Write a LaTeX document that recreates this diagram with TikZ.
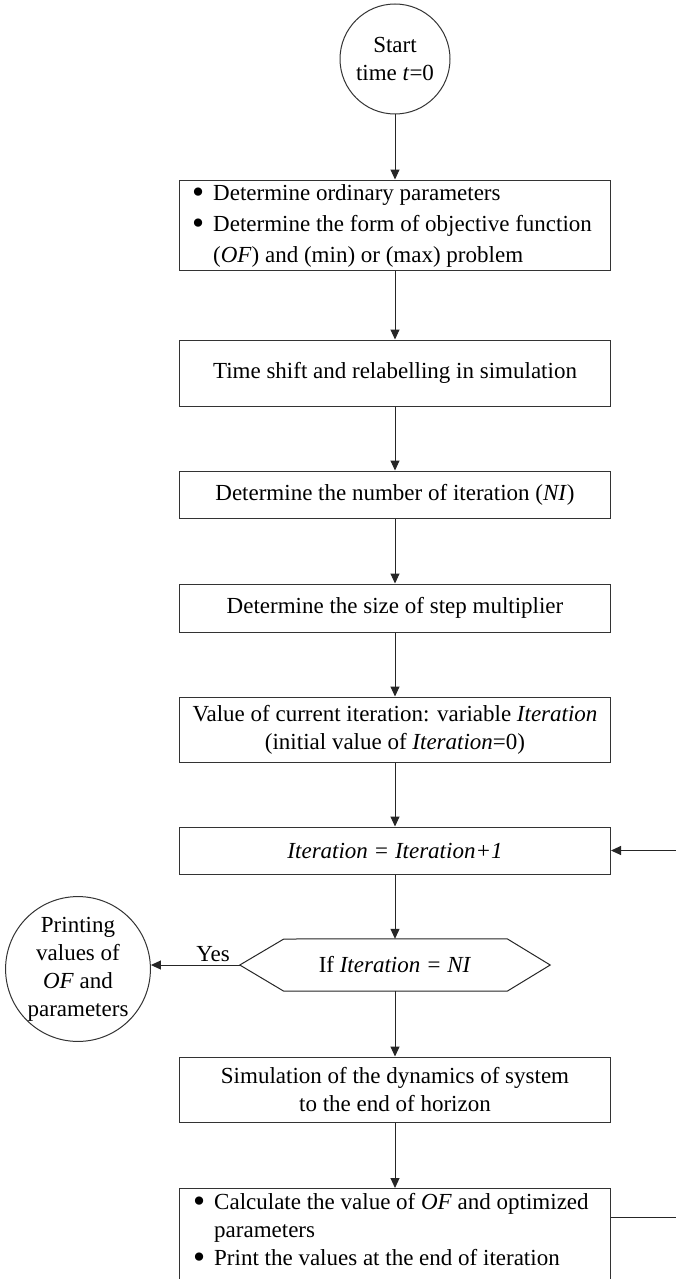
\documentclass[tikz,border=0pt]{standalone}
\usepackage{fontspec}
\setmainfont{Liberation Serif}
\usetikzlibrary{arrows.meta}

% large round list bullet with a fixed gap to the text
\newcommand\listdot{\makebox[21pt][l]{\smash{\raisebox{-0.13em}{\scalebox{1.5}{\textbullet}}}}}
\newcommand\listgap{\hspace*{21pt}}

\tikzset{
  txt/.style={font=\fontsize{23}{28}\selectfont},
  stepbox/.style={txt, draw=black!80, line width=1pt, rectangle,
    minimum width=431pt, align=center, inner sep=0pt},
  listtext/.style={txt, align=left, inner sep=0pt},
  roundnode/.style={txt, draw=black!80, line width=1pt, circle, align=center, inner sep=0pt},
  flow/.style={draw=black!85, line width=1pt, -{Triangle[length=10pt,width=9pt]}},
  plain/.style={draw=black!85, line width=1pt}
}

\begin{document}
\begin{tikzpicture}[x=1pt,y=-1pt]
\useasboundingbox (0,0) rectangle (676,1279);
\fill[white] (0,0) rectangle (676,1279);
\clip (0,0) rectangle (676,1279);

% main column
\node[roundnode, minimum size=110pt] (start) at (395,59) {Start\\time \textit{t}=0};

\node[stepbox, minimum height=90pt] (params) at (395,225) {};
\node[listtext, font=\fontsize{23}{31}\selectfont, anchor=west] (paramstext)
  at ([xshift=13pt,yshift=-1pt]params.west)
  {\listdot Determine ordinary parameters\\
   \listdot Determine the form of objective function\\
   \listgap(\textit{OF}) and (min) or (max) problem};

\node[stepbox, minimum height=66pt] (shift) at (395,373)
  {Time shift and relabelling in simulation};

\node[stepbox, minimum height=47pt] (nint) at (395,494.5)
  {Determine the number of iteration (\textit{NI})};

\node[stepbox, minimum height=48pt] (stepsize) at (395,608)
  {Determine the size of step multiplier};

\node[stepbox, minimum height=65pt] (curr) at (395,729.5)
  {Value of current iteration: variable \textit{Iteration}\\
   (initial value of \textit{Iteration}=0)};

\node[stepbox, minimum height=47pt] (incr) at (395,850.5)
  {\textit{Iteration = Iteration+1}};

% decision: hexagon drawn around a plain node
\node[txt, minimum width=310pt, minimum height=52pt, inner sep=0pt] (test) at (395,965)
  {If \textit{Iteration = NI}};
\draw[plain] (test.west) -- ++(44,-26) -- ([xshift=-43pt]test.north east)
  -- (test.east) -- ([xshift=-43pt]test.south east) -- ([xshift=44pt]test.south west) -- cycle;

\node[roundnode, minimum size=136pt] (print) at (78,969)
  {Printing\\values of\\\textit{OF} and\\parameters};

\node[stepbox, minimum height=65pt] (sim) at (395,1089.5)
  {Simulation of the dynamics of system\\to the end of horizon};

\node[stepbox, minimum height=100pt, anchor=north] (calc) at (395,1188) {};
\node[listtext, anchor=north west] (calctext) at (193,1193)
  {\listdot Calculate the value of \textit{OF} and optimized\\
   \listgap parameters\\
   \listdot Print the values at the end of iteration};

\coordinate (back) at (720,1217);

% connectors
\draw[flow] (start) -- (params);
\draw[flow] (params) -- (shift);
\draw[flow] (shift) -- (nint);
\draw[flow] (nint) -- (stepsize);
\draw[flow] (stepsize) -- (curr);
\draw[flow] (curr) -- (incr);
\draw[flow] (incr) -- (test.north);
\draw[flow] (test.west) -- node[txt, above, pos=0.3, inner sep=3pt] (yes) {Yes} (test.west -| print.east);
\draw[flow] (test.south) -- (sim);
\draw[flow] (sim) -- (calc);
\draw[flow] (calc.east |- back) -- (back) -- (back |- incr.east) -- (incr.east);
\end{tikzpicture}
\end{document}
